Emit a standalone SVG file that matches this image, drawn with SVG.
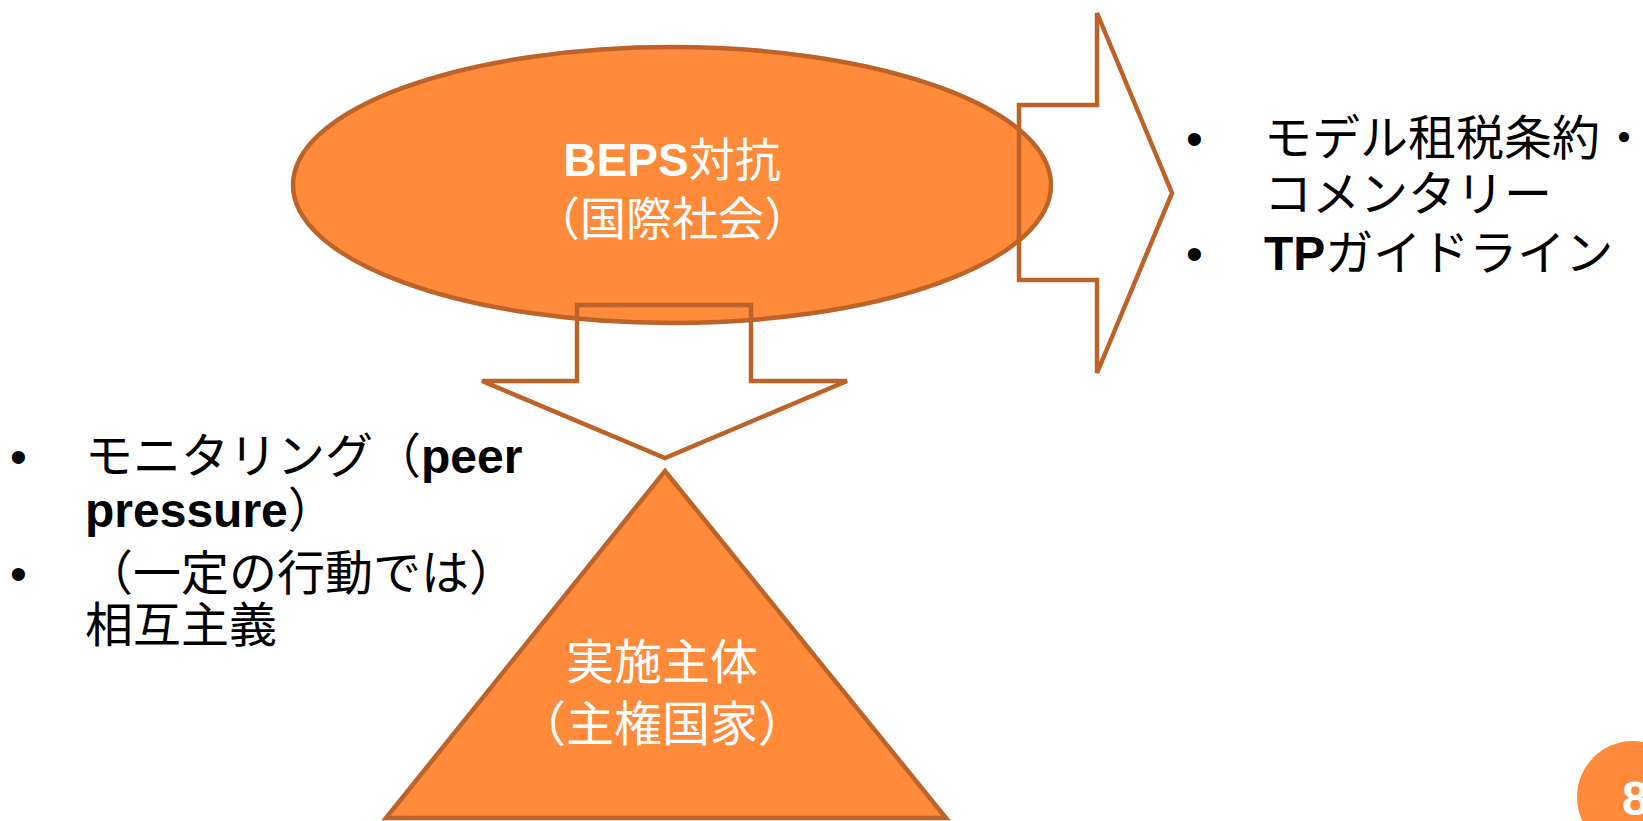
<svg xmlns="http://www.w3.org/2000/svg" width="1643" height="821" viewBox="0 0 1643 821">
<style>
.shape{fill:#FF8A3A;stroke:#BD6329;stroke-width:4.5}
.arrow{fill:none;stroke:#BD6329;stroke-width:4.5;stroke-linejoin:miter}
.t{font-family:"Liberation Sans","Noto Sans CJK JP",sans-serif;font-size:48px}
.e{font-size:46px}
.w{fill:#FFFFFF}
.k{fill:#000000}
.b{font-weight:bold}
</style>
<rect width="1643" height="821" fill="#FFFFFF"/>
<g id="beps">
<ellipse class="shape" cx="672" cy="185" rx="379" ry="138"/>
<text class="t e w" text-anchor="middle" x="672" y="176"><tspan class="b">BEPS</tspan>対抗</text>
<text class="t e w" text-anchor="middle" x="672" y="235">（国際社会）</text>
</g>
<g id="connectors">
<polygon class="arrow" points="1019,105 1097,105 1097,13 1172,193 1097,373 1097,280 1019,280"/>
<polygon class="arrow" points="577,305 751,305 751,381 847,381 665,458 482,381 577,381"/>
</g>
<g id="sovereign">
<polygon class="shape" points="665,471 946,818 386,818"/>
<text class="t w" text-anchor="middle" x="662" y="679">実施主体</text>
<text class="t w" text-anchor="middle" x="662" y="741">（主権国家）</text>
</g>
<g id="right-list">
<text class="t k" x="1186" y="155">•</text>
<text class="t k" x="1264" y="155">モデル租税条約・</text>
<text class="t k" x="1264" y="211">コメンタリー</text>
<text class="t k" x="1186" y="270">•</text>
<text class="t k" x="1264" y="270"><tspan class="b">TP</tspan>ガイドライン</text>
</g>
<g id="left-list">
<text class="t k" x="10" y="473">•</text>
<text class="t k" x="85" y="473">モニタリング（<tspan class="b">peer</tspan></text>
<text class="t k" x="85" y="527"><tspan class="b">pressure</tspan>）</text>
<text class="t k" x="10" y="590">•</text>
<text class="t k" x="85" y="590">（一定の行動では）</text>
<text class="t k" x="85" y="642">相互主義</text>
</g>
<g id="page-number">
<circle cx="1633" cy="797" r="56" fill="#FF8A3A"/>
<text class="t w b" x="1622" y="815" font-size="44">8</text>
</g>
</svg>
